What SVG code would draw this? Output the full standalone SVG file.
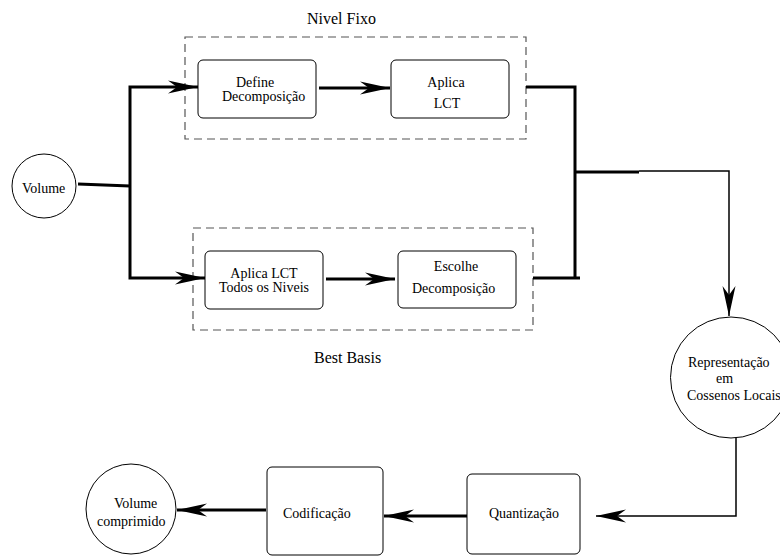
<svg xmlns="http://www.w3.org/2000/svg" width="780" height="557" viewBox="0 0 780 557">
<style>
text{font-family:'Liberation Serif',Tinos,'Times New Roman',Times,serif;fill:#000}
.t{font-size:14px}
.tl{font-size:16px}
.box{fill:#fff;stroke:#000;stroke-width:1}
.grp{fill:none;stroke:#555;stroke-width:1.2;stroke-dasharray:8,5}
.c{fill:none;stroke:#000;stroke-width:3}
.cn{fill:none;stroke:#000;stroke-width:1.5}
</style>
<defs>
<marker id="ah" markerUnits="userSpaceOnUse" markerWidth="34" markerHeight="16" refX="30" refY="7" orient="auto" overflow="visible">
<path d="M30,7 L0,0.5 L9,7 L0,13.5 Z" fill="#000"/>
</marker>
</defs>
<rect class="grp" x="185" y="37" width="341" height="102"/>
<rect class="grp" x="193" y="228" width="340" height="102"/>
<text class="tl" x="307" y="24" font-family="Liberation Serif, serif">Nivel Fixo</text>
<text class="tl" x="314" y="363" font-family="Liberation Serif, serif">Best Basis</text>
<g id="connectors">
<path class="c" d="M78,184 L130,186"/>
<path class="c" d="M130,186 L130,87 L198,87" marker-end="url(#ah)"/>
<path class="c" d="M130,186 L130,278 L205,278" marker-end="url(#ah)"/>
<path class="c" d="M319,88 L390,88" marker-end="url(#ah)"/>
<path class="c" d="M326,279 L395,279" marker-end="url(#ah)"/>
<path class="c" d="M526,87 L575,87 L575,278"/>
<path class="c" d="M533,278 L580,278"/>
<path class="c" d="M576,172 L639,172"/>
<path class="cn" d="M639,171 L729,171 L729,316" marker-end="url(#ah)"/>
<path class="cn" d="M736,438 L736,516 L596,516" marker-end="url(#ah)"/>
<path class="c" d="M467,516 L384,516" marker-end="url(#ah)"/>
<path class="c" d="M266,510 L177,510" marker-end="url(#ah)"/>
</g>
<g id="volume">
<circle class="box" cx="44" cy="186" r="32"/>
<text class="t" x="22" y="193">Volume</text>
</g>
<g id="define">
<rect class="box" x="198" y="60" width="118" height="58" rx="5"/>
<text class="t" x="236" y="87">Define</text>
<text class="t" x="222" y="101">Decomposição</text>
</g>
<g id="aplica">
<rect class="box" x="391" y="60" width="118" height="58" rx="5"/>
<text class="t" x="446" y="87" text-anchor="middle">Aplica</text>
<text class="t" x="447" y="108" text-anchor="middle">LCT</text>
</g>
<g id="aplica-todos">
<rect class="box" x="205" y="251" width="118" height="58" rx="5"/>
<text class="t" x="264" y="278" text-anchor="middle">Aplica LCT</text>
<text class="t" x="264" y="292" text-anchor="middle">Todos os Niveis</text>
</g>
<g id="escolhe">
<rect class="box" x="398" y="251" width="118" height="57" rx="5"/>
<text class="t" x="456" y="271" text-anchor="middle">Escolhe</text>
<text class="t" x="412" y="293">Decomposição</text>
</g>
<g id="representacao">
<circle class="box" cx="731" cy="377.5" r="60.5"/>
<text class="t" x="688" y="367">Representação</text>
<text class="t" x="716" y="383">em</text>
<text class="t" x="687" y="400">Cossenos Locais</text>
</g>
<g id="quantizacao">
<rect class="box" x="467" y="474" width="113" height="80" rx="5"/>
<text class="t" x="489" y="518">Quantização</text>
</g>
<g id="codificacao">
<rect class="box" x="267" y="467" width="116" height="88" rx="5"/>
<text class="t" x="283" y="518">Codificação</text>
</g>
<g id="volume-comprimido">
<circle class="box" cx="131" cy="509" r="45"/>
<text class="t" x="114" y="508">Volume</text>
<text class="t" x="97" y="526">comprimido</text>
</g>
</svg>
